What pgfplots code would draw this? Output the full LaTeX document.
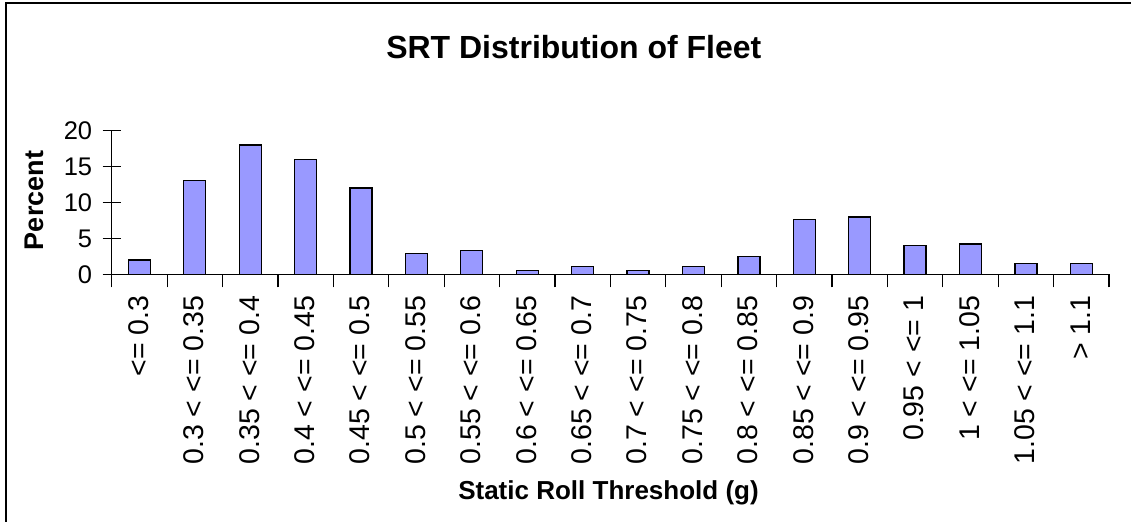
\documentclass[border=0pt]{standalone}
\usepackage{fontspec}
\setmainfont{Liberation Sans}
\usepackage{pgfplots}
\pgfplotsset{compat=1.18}
\definecolor{barblue}{HTML}{9999FF}
\pgfplotstableread{
x y
0 2.0
1 13.1
2 18.0
3 16.0
4 12.0
5 2.9
6 3.3
7 0.5
8 1.1
9 0.5
10 1.1
11 2.45
12 7.6
13 8.0
14 4.0
15 4.2
16 1.5
17 1.5
}\srtdata
\begin{document}
\begin{tikzpicture}[x=1bp,y=1bp]
\useasboundingbox (0,0) rectangle (1131,522);
\draw[line width=2bp] (6,-5) -- (6,519) -- (1140,519);
\node[font=\fontsize{32bp}{38bp}\selectfont\bfseries] at (573.8,475) {SRT Distribution of Fleet};
\node[font=\fontsize{27bp}{32bp}\selectfont\bfseries, rotate=90] at (34,321.5) {Percent};
\node[font=\fontsize{26bp}{31bp}\selectfont\bfseries, anchor=base] at (608.5,22) {Static Roll Threshold (g)};
\begin{axis}[
  at={(111.7bp,247.7bp)}, anchor=south west,
  scale only axis, width=997.3bp, height=143.6bp,
  xmin=-0.5, xmax=17.5, ymin=0, ymax=20,
  axis x line*=bottom, axis y line*=left,
  axis line style={line width=1.3bp, black},
  ytick={0,5,10,15,20},
  xtick={0,...,17},
  xticklabels={{<= 0.3},{0.3 < <= 0.35},{0.35 < <= 0.4},{0.4 < <= 0.45},{0.45 < <= 0.5},{0.5 < <= 0.55},{0.55 < <= 0.6},{0.6 < <= 0.65},{0.65 < <= 0.7},{0.7 < <= 0.75},{0.75 < <= 0.8},{0.8 < <= 0.85},{0.85 < <= 0.9},{0.9 < <= 0.95},{0.95 < <= 1},{1 < <= 1.05},{1.05 < <= 1.1},{> 1.1}},
  minor xtick={-0.5,0.5,...,17.5},
  major x tick style={draw=none},
  tick align=center,
  major tick length=18bp, minor tick length=13bp,
  tick style={black, line width=1.2bp},
  /pgf/number format/assume math mode=true,
  yticklabel style={font=\fontsize{25.5bp}{30bp}\selectfont, xshift=-7bp},
  xticklabel style={font=\fontsize{28.5bp}{34bp}\selectfont, rotate=90, anchor=east, yshift=1bp},
  ybar, bar width=22bp,
  clip=false,
]
\addplot[fill=barblue, draw=black, line width=1.3bp] table[x=x,y=y] {\srtdata};
\end{axis}
\end{tikzpicture}
\end{document}
